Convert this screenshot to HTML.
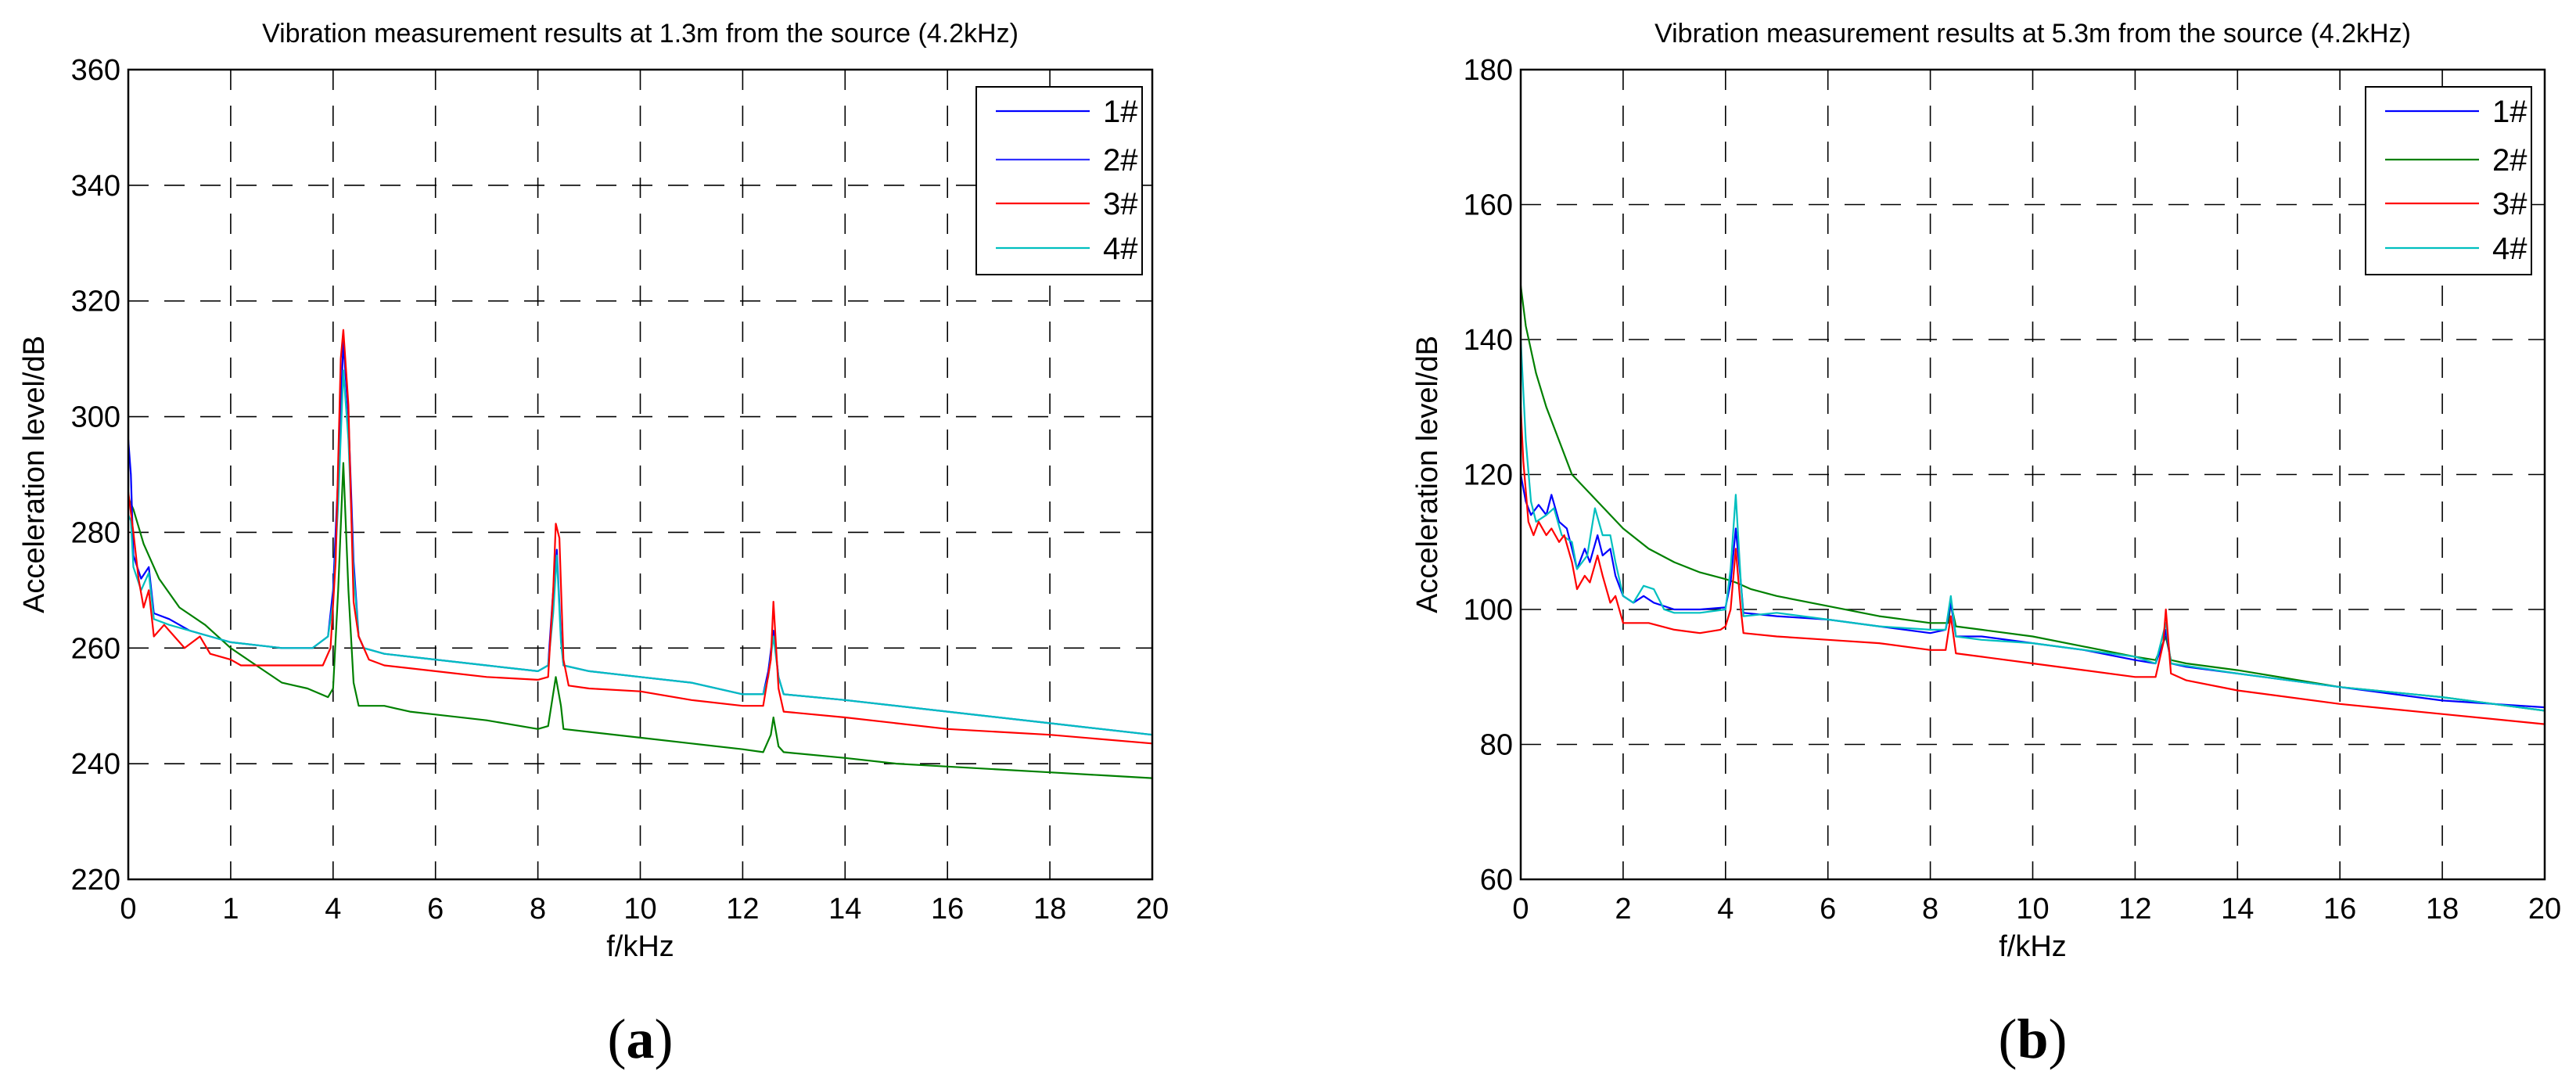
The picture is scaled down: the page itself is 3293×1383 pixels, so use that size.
<!DOCTYPE html>
<html><head><meta charset="utf-8"><style>
body{margin:0;background:#fff}
svg{display:block}
text{font-family:"Liberation Sans",sans-serif;fill:#000}
</style></head><body>
<svg id="fig" width="3293" height="1383" viewBox="0 0 3293 1383" xmlns="http://www.w3.org/2000/svg"></svg>
<script>
// ----- Panel (a) data -----
const a1x=[0,0.05,0.1,0.25,0.4,0.5,0.8,1.2,1.6,2,3,3.6,3.9,4.0,4.1,4.2,4.3,4.4,4.5,4.6,5,6,7,8,8.2,8.3,8.37,8.45,8.5,9,10,11,12,12.4,12.5,12.6,12.7,12.8,14,16,18,20];
const a1y=[296,290,276,272,274,266,265,263,262,261,260,260,262,270,290,313,300,275,262,260,259,258,257,256,257,270,277,262,257,256,255,254,252,252,256,263,255,252,251,249,247,245];
const a4y=[283,282,274,270,273,265,264,263,262,261,260,260,262,268,285,308,296,273,262,260,259,258,257,256,257,266,276,261,257,256,255,254,252,252,255,262,255,252,251,249,247,245];
const a2x=[0,0.1,0.3,0.6,1,1.5,2,2.5,3,3.5,3.9,4.0,4.1,4.2,4.3,4.4,4.5,5,5.5,6,7,8,8.2,8.35,8.45,8.5,9,10,11,12,12.4,12.55,12.6,12.7,12.8,14,15,16,17,18,19,20];
const a2y=[286,284,278,272,267,264,260,257,254,253,251.5,253,270,292,270,254,250,250,249,248.5,247.5,246,246.5,255,250,246,245.5,244.5,243.5,242.5,242,245,248,243,242,241,240,239.5,239,238.5,238,237.5];
const a3x=[0,0.1,0.2,0.3,0.4,0.5,0.7,0.9,1.1,1.4,1.6,2,2.2,3,3.8,3.95,4.05,4.15,4.2,4.3,4.4,4.5,4.7,5,6,7,8,8.2,8.3,8.35,8.42,8.5,8.6,9,10,11,12,12.4,12.55,12.6,12.7,12.8,14,16,18,20];
const a3y=[287,280,272,267,270,262,264,262,260,262,259,258,257,257,257,260,275,310,315,302,268,262,258,257,256,255,254.5,255,270,281.5,279,258,253.5,253,252.5,251,250,250,258,268,253,249,248,246,245,243.5];
// ----- Panel (b) data -----
const b1x=[0,0.1,0.2,0.35,0.5,0.6,0.75,0.9,1.0,1.1,1.25,1.35,1.5,1.6,1.75,1.85,2,2.2,2.4,2.6,3,3.5,4,4.1,4.2,4.3,4.35,5,6,7,8,8.3,8.4,8.5,9,10,11,12,12.4,12.55,12.6,12.7,13,14,16,18,19,20];
const b1y=[120,116,114,115.5,114,117,113,112,109,106,109,107,111,108,109,105,102,101,102,101,100,100,100.3,104,112,104,99.5,99,98.5,97.5,96.5,97,101,96,96,95,94,92.5,92,95,97,92,91.5,90.5,88.5,86.5,86,85.5];
const b2x=[0,0.1,0.3,0.5,0.8,1,1.5,2,2.5,3,3.5,4,4.2,4.5,5,6,7,8,8.35,8.4,8.5,9,10,11,12,12.4,12.6,12.7,13,14,16,18,20];
const b2y=[148,142,135,130,124,120,116,112,109,107,105.5,104.5,104,103,102,100.5,99,98,98,101,97.5,97,96,94.5,93,92.5,96,92.5,92,91,88.5,87,85];
const b3x=[0,0.05,0.15,0.25,0.35,0.5,0.6,0.75,0.85,1.0,1.1,1.25,1.35,1.5,1.6,1.75,1.85,2,2.5,3,3.5,3.9,4.0,4.1,4.2,4.3,4.35,5,6,7,8,8.3,8.4,8.5,9,10,11,12,12.4,12.55,12.6,12.7,13,14,16,18,20];
const b3y=[130,122,113,111,113,111,112,110,111,107,103,105,104,108,105,101,102,98,98,97,96.5,97,97.5,100,109,100,96.5,96,95.5,95,94,94,99,93.5,93,92,91,90,90,95,100,90.5,89.5,88,86,84.5,83];
const b4x=[0,0.1,0.2,0.3,0.5,0.65,0.8,1,1.1,1.3,1.45,1.6,1.75,1.85,2,2.2,2.4,2.6,2.8,3,3.5,4,4.1,4.2,4.3,4.35,5,6,7,8,8.3,8.4,8.5,9,10,12,12.4,12.6,12.7,14,16,18,20];
const b4y=[140,125,116,113,114,115,111,110,106,108,115,111,111,107,102,101,103.5,103,100,99.5,99.5,100,106,117,104,99,99.5,98.5,97.5,97,97,102,96,95.5,95,93,92,98,92,90.5,88.5,87,85];
const aYTicks=[220,240,260,280,300,320,340,360];
const bYTicks=[60,80,100,120,140,160,180];
const xTickVals=[0,2,4,6,8,10,12,14,16,18,20];
const aXLabels=["0","1","4","6","8","10","12","14","16","18","20"];
const bXLabels=["0","2","4","6","8","10","12","14","16","18","20"];
const legendNames=["1#","2#","3#","4#"];

const NS="http://www.w3.org/2000/svg";
const svg=document.getElementById('fig');
function mk(tag,attrs,parent){const e=document.createElementNS(NS,tag);for(const k in attrs)e.setAttribute(k,attrs[k]);(parent||svg).appendChild(e);return e;}

function panel(cfg){
  const g=mk('g',{});
  
  
  const L=cfg.L,R=cfg.R,T=89,B=1124;
  const sx=v=>L+(v-0)/(20-0)*(R-L);
  const sy=v=>B-(v-cfg.ymin)/(cfg.ymax-cfg.ymin)*(B-T);
  cfg.yt.forEach(v=>{
    if(v!==cfg.ymin&&v!==cfg.ymax){const l=mk('line',{x1:L,x2:R,y1:sy(v),y2:sy(v),stroke:'#000','stroke-width':1.6,'stroke-dasharray':'26,20'},g);
    
    }
    const t=mk('text',{x:L-10,y:sy(v)+13,'text-anchor':'end','font-size':38},g);t.textContent=v;
    
    
  });
  xTickVals.forEach((v,i)=>{
    if(v!==0&&v!==20){const l=mk('line',{x1:sx(v),x2:sx(v),y1:T,y2:B,stroke:'#000','stroke-width':1.6,'stroke-dasharray':'26,20'},g);
    
    }
    const t=mk('text',{x:sx(v),y:B+50,'text-anchor':'middle','font-size':38},g);t.textContent=cfg.xl[i];
    
    
  });
  const cols=['#0000ff','#008000','#ff0000','#00bfbf'];
  const order=[1,0,3,2];
  order.forEach(k=>{
    const s=cfg.series[k];
    const pts=s[0].map((x,i)=>sx(x).toFixed(1)+','+sy(s[1][i]).toFixed(1)).join(' ');
    const p=mk('polyline',{points:pts,fill:'none',stroke:cols[k],'stroke-width':2.2,'stroke-linejoin':'round'},g);
    
    
  });
  const ax=mk('rect',{x:L,y:T,width:R-L,height:B-T,fill:'none',stroke:'#000','stroke-width':2.5},g);
  
  
  const ti=mk('text',{x:(L+R)/2,y:54,'text-anchor':'middle','font-size':34},g);ti.textContent=cfg.title;
  
  
  const xl=mk('text',{x:(L+R)/2,y:1222,'text-anchor':'middle','font-size':38},g);xl.textContent='f/kHz';
  
  
  const yl=mk('text',{x:0,y:0,'text-anchor':'middle','font-size':38,transform:`translate(${cfg.ylx},${(T+B)/2}) rotate(-90)`},g);yl.textContent='Acceleration level/dB';
  
  
  const pl=mk('text',{x:(L+R)/2,y:1352,'text-anchor':'middle','font-size':72,style:'font-family:"Liberation Serif",serif'},g);
  pl.innerHTML='(<tspan font-weight="bold">'+cfg.letter+'</tspan>)';
  
  
  const lg=mk('g',{},g);
  
  
  mk('rect',{x:cfg.legX,y:111,width:212,height:240,fill:'#fff',stroke:'#000','stroke-width':2},lg);
  const lcols=cfg.legCols;
  [142,204,260,317].forEach((yy,i)=>{
    const ln=mk('line',{x1:cfg.legX+25,x2:cfg.legX+145,y1:yy,y2:yy,stroke:lcols[i],'stroke-width':2.2},lg);
    
    
    const t=mk('text',{x:cfg.legX+162,y:yy+14,'font-size':40},lg);t.textContent=legendNames[i];
    
    
  });
}
panel({name:'panel-a',L:164,R:1473,ymin:220,ymax:360,yt:aYTicks,xl:aXLabels,title:'Vibration measurement results at 1.3m from the source (4.2kHz)',ylx:56,letter:'a',legX:1248,
  legCols:['#0000ff','#3030ff','#ff0000','#00bfbf'],
  series:[[a1x,a1y],[a2x,a2y],[a3x,a3y],[a1x,a4y]]});
panel({name:'panel-b',L:1944,R:3253,ymin:60,ymax:180,yt:bYTicks,xl:bXLabels,title:'Vibration measurement results at 5.3m from the source (4.2kHz)',ylx:1837,letter:'b',legX:3024,
  legCols:['#0000ff','#008000','#ff0000','#00bfbf'],
  series:[[b1x,b1y],[b2x,b2y],[b3x,b3y],[b4x,b4y]]});
</script>
</body></html>
